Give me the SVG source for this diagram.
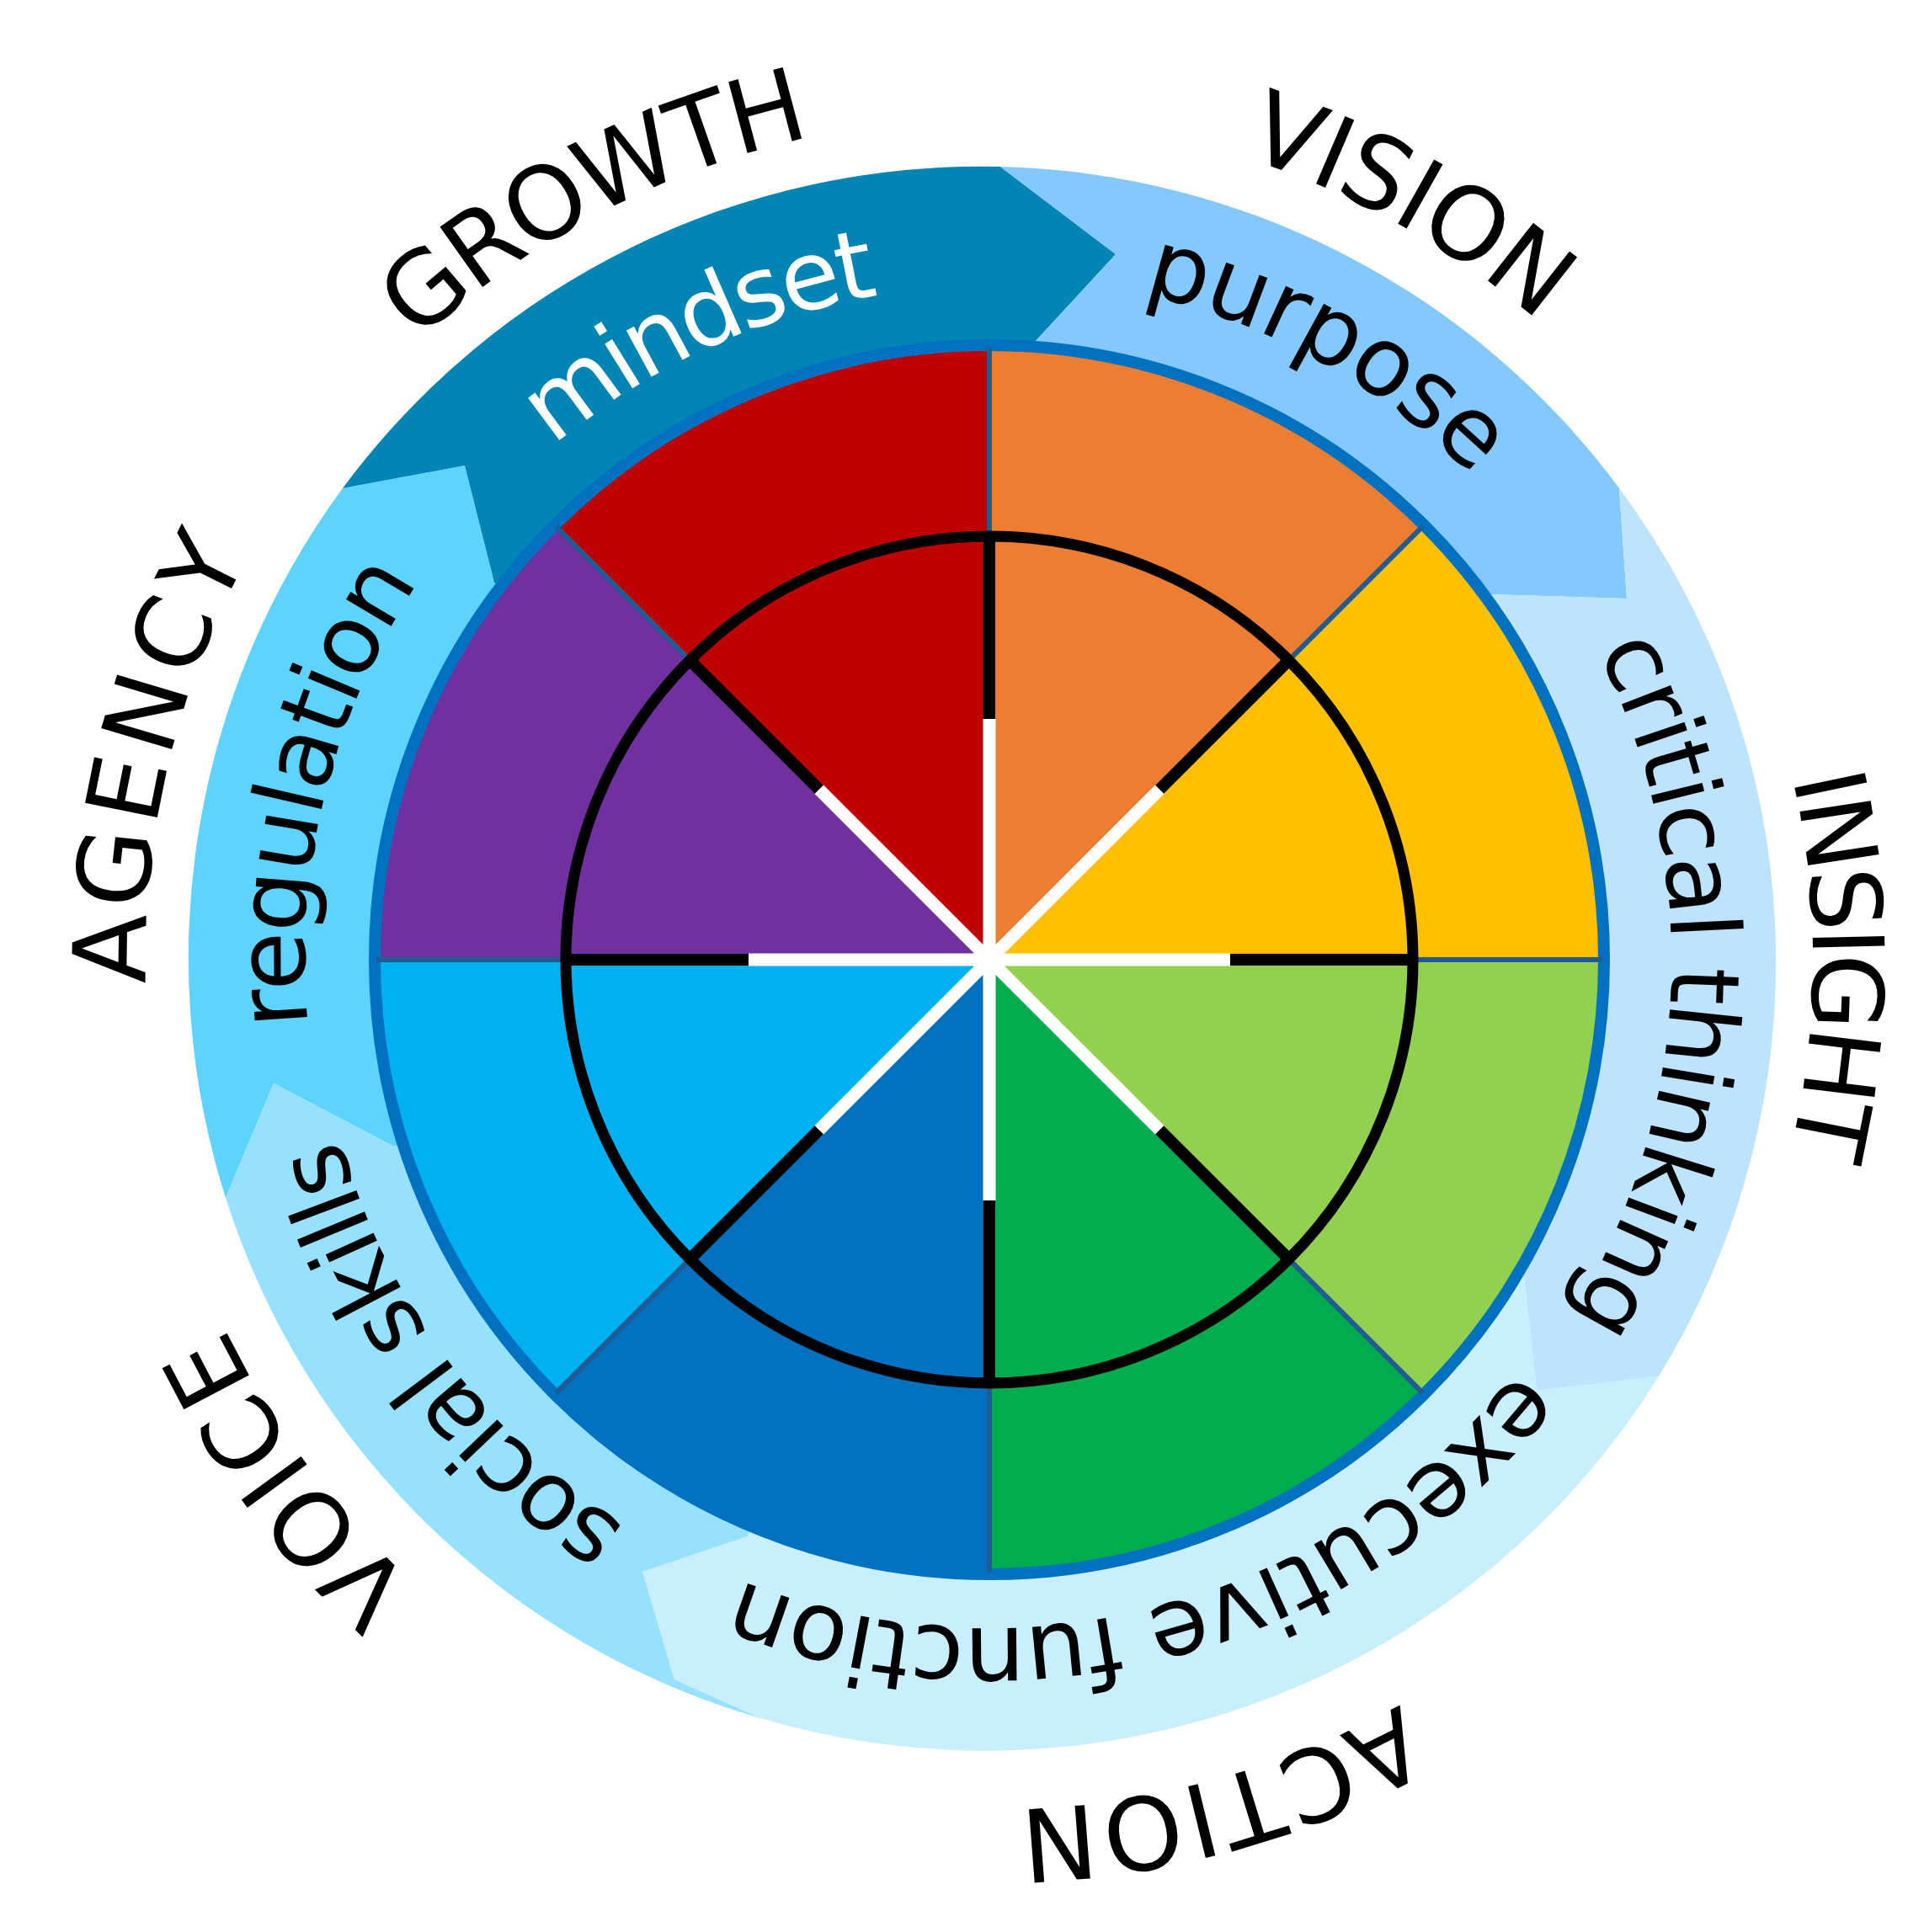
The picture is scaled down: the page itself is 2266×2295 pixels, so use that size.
<svg xmlns="http://www.w3.org/2000/svg" xmlns:xlink="http://www.w3.org/1999/xlink" width="2266" height="2295" viewBox="0 0 2266 2295">
<style>
.lbl{font-family:"DejaVu Sans","Liberation Sans",sans-serif;font-size:120px;fill:#000;text-anchor:middle}
.sub{font-family:"DejaVu Sans","Liberation Sans",sans-serif;font-size:114px;fill:#000;text-anchor:middle}
.div{stroke:#1F5C91;stroke-width:6;fill:none}
.blk{stroke:#000;stroke-width:14;fill:none}
.wht{stroke:#fff;stroke-width:15;fill:none}
</style>
<defs>
<path id="c1000" d="M1175 140 A1000 1000 0 1 1 1175 2140 A1000 1000 0 1 1 1175 140"/>
<path id="c978" d="M1175 162 A978 978 0 1 1 1175 2118 A978 978 0 1 1 1175 162"/>
<path id="c1010" d="M1175 130 A1010 1010 0 1 1 1175 2150 A1010 1010 0 1 1 1175 130"/>
<path id="c1008" d="M1175 132 A1008 1008 0 1 1 1175 2148 A1008 1008 0 1 1 1175 132"/>
<path id="c1002" d="M1175 138 A1002 1002 0 1 1 1175 2142 A1002 1002 0 1 1 1175 138"/>
<path id="c800" d="M1175 340 A800 800 0 1 1 1175 1940 A800 800 0 1 1 1175 340"/>
<path id="c812" d="M1175 328 A812 812 0 1 1 1175 1952 A812 812 0 1 1 1175 328"/>
<path id="c810" d="M1175 330 A810 810 0 1 1 1175 1950 A810 810 0 1 1 1175 330"/>
<path id="c794" d="M1175 346 A794 794 0 1 1 1175 1934 A794 794 0 1 1 1175 346"/>
<path id="c813" d="M1175 327 A813 813 0 1 1 1175 1953 A813 813 0 1 1 1175 327"/>
</defs>
<rect width="2266" height="2295" fill="#fff"/>

<g id="band">
<g id="seg-agency"><path fill="#5DD3FE" d="M1175 1140 L468 1362 L325 1287 L268 1423 A942 942 0 0 1 407 580 L552 553 L587 692 Z"/></g>
<g id="seg-growth"><path fill="#0085B4" d="M1175 1140 L587 692 L552 553 L407 580 A942 942 0 0 1 1188 198 L1325 302 L1230 405 Z"/></g>
<g id="seg-vision"><path fill="#83C8FE" d="M1175 1140 L1230 405 L1325 302 L1188 198 A942 942 0 0 1 1923 580 L1932 711 L1772 706 Z"/></g>
<g id="seg-insight"><path fill="#BEE3FD" d="M1175 1140 L1772 706 L1932 711 L1923 580 A942 942 0 0 1 1970 1635 L1825 1652 L1810 1518 Z"/></g>
<g id="seg-action"><path fill="#C9EFFE" d="M1175 1140 L1810 1518 L1825 1652 L1970 1635 A942 942 0 0 1 903 2041 L801 1995 L763 1867 L888 1825 Z"/></g>
<g id="seg-voice"><path fill="#96E1FE" d="M1175 1140 L888 1825 L763 1867 L801 1995 L903 2041 A942 942 0 0 1 268 1423 L325 1287 L468 1362 Z"/></g>
</g>

<g id="wheel">
<path fill="#ED7D31" d="M1175 1140 L1175 410 A730 730 0 0 1 1691.2 623.8 Z"/>
<path fill="#FFC000" d="M1175 1140 L1691.2 623.8 A730 730 0 0 1 1905 1140 Z"/>
<path fill="#92D050" d="M1175 1140 L1905 1140 A730 730 0 0 1 1691.2 1656.2 Z"/>
<path fill="#00AD4E" d="M1175 1140 L1691.2 1656.2 A730 730 0 0 1 1175 1870 Z"/>
<path fill="#0070C0" d="M1175 1140 L1175 1870 A730 730 0 0 1 658.8 1656.2 Z"/>
<path fill="#00B0F0" d="M1175 1140 L658.8 1656.2 A730 730 0 0 1 445 1140 Z"/>
<path fill="#7030A0" d="M1175 1140 L445 1140 A730 730 0 0 1 658.8 623.8 Z"/>
<path fill="#C00000" d="M1175 1140 L658.8 623.8 A730 730 0 0 1 1175 410 Z"/>
<circle cx="1175" cy="1140" r="730" fill="none" stroke="#0070C0" stroke-width="14"/>
</g>

<g id="connectors">
<path class="div" d="M1175 412 L1175 1868 M447 1140 L1903 1140 M1689.8 625.2 L660.2 1654.8 M1689.8 1654.8 L660.2 625.2"/>
<path class="blk" d="M1175 637 L1175 1643 M672 1140 L1678 1140 M1530.7 784.3 L819.3 1495.7 M1530.7 1495.7 L819.3 784.3"/>
<path class="wht" d="M1175 854 L1175 1426 M889 1140 L1461 1140 M1377.2 937.8 L972.8 1342.2 M1377.2 1342.2 L972.8 937.8"/>
<circle cx="1175" cy="1140" r="503" fill="none" stroke="#000" stroke-width="13"/>
</g>

<g id="labels">
<text class="lbl" letter-spacing="-3.9"><textPath xlink:href="#c1000" href="#c1000" startOffset="5801">GROWTH</textPath></text>
<text class="lbl" letter-spacing="-1.7"><textPath xlink:href="#c1000" href="#c1000" startOffset="508">VISION</textPath></text>
<text class="lbl" letter-spacing="-5.5" style="font-size:117px"><textPath xlink:href="#c978" href="#c978" startOffset="1540">INSIGHT</textPath></text>
<text class="lbl" letter-spacing="3.5"><textPath xlink:href="#c1010" href="#c1010" startOffset="2902">ACTION</textPath></text>
<text class="lbl" letter-spacing="3.5"><textPath xlink:href="#c1008" href="#c1008" startOffset="4108">VOICE</textPath></text>
<text class="lbl" letter-spacing="6.8"><textPath xlink:href="#c1002" href="#c1002" startOffset="4960">AGENCY</textPath></text>

<text class="sub" letter-spacing="-5" style="fill:#fff"><textPath xlink:href="#c800" href="#c800" startOffset="4676">mindset</textPath></text>
<text class="sub" letter-spacing="-1.5"><textPath xlink:href="#c812" href="#c812" startOffset="410">purpose</textPath></text>
<text class="sub" letter-spacing="-3.3"><textPath xlink:href="#c810" href="#c810" startOffset="1304">critical thinking</textPath></text>
<text class="sub" letter-spacing="-1.6"><textPath xlink:href="#c794" href="#c794" startOffset="2284">executive function</textPath></text>
<text class="sub" letter-spacing="-4.6"><textPath xlink:href="#c800" href="#c800" startOffset="3260">social skills</textPath></text>
<text class="sub" letter-spacing="-2.8"><textPath xlink:href="#c813" href="#c813" startOffset="4028">regulation</textPath></text>
</g>
</svg>
